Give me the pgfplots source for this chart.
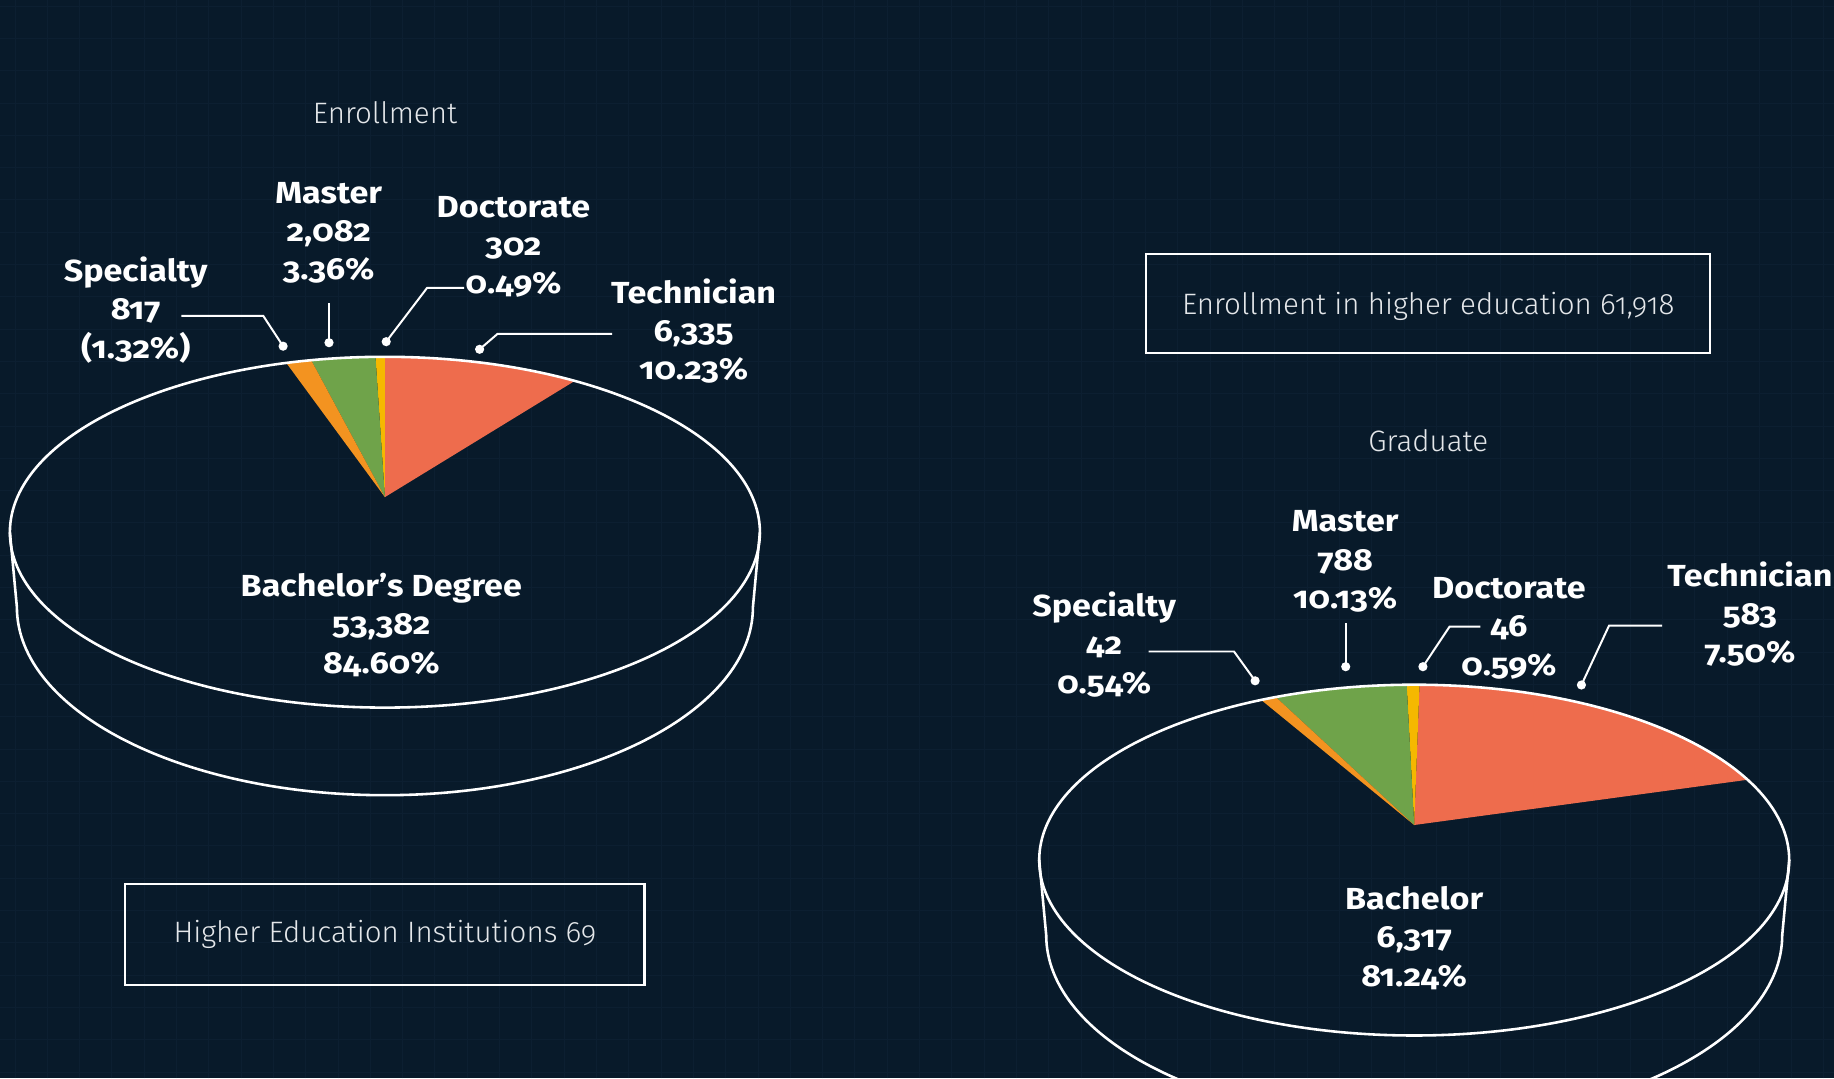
\documentclass[border=0pt]{standalone}
\usepackage{pgfplots}
\pgfplotsset{compat=1.18}
\usepackage{pgfplotstable}
\usepackage{fontspec}
\setmainfont{Fira Sans}[Numbers=OldStyle, FakeStretch=1.12]
\IfFontExistsTF{Fira Sans Light}
  {\newfontfamily\lightfont{Fira Sans Light}[Numbers=OldStyle]}
  {\newfontfamily\lightfont{Fira Sans}[Numbers=OldStyle]}

\definecolor{bg}{HTML}{081A2A}
\definecolor{gridc}{HTML}{0C1F31}
\definecolor{tech}{HTML}{EE6C4D}
\definecolor{doct}{HTML}{F5B800}
\definecolor{mast}{HTML}{6FA34A}
\definecolor{spec}{HTML}{F39320}
\definecolor{txt}{HTML}{E4E7EA}

% slice shares in percent, counter-clockwise from the start angle
\pgfplotstableread{
label      share  colour
Technician 10.23  tech
Doctorate  0.49   doct
Master     3.36   mast
Specialty  1.32   spec
Bachelor   84.60  none
}\enrollment

% shares as drawn in the graduate pie
\pgfplotstableread{
label      share  colour
Technician 20.14  tech
Doctorate  0.67   doct
Master     6.93   mast
Specialty  0.81   spec
Bachelor   71.45  none
}\graduate

\def\RX{375}   % top face radii, in pixels
\def\RY{175.4}
\def\RXB{368}  % bottom face
\def\RYB{188}
\def\DEPTH{75}
\def\U{0.15}   % mm per pixel

% perspective pie: #1 table, #2 cx, #3 cy (top face centre), #4 start angle
\newcommand\pieslices[4]{%
  \pgfmathsetmacro\pstart{#4}\xdef\phicur{\pstart}%
  \pgfplotstablegetrowsof{#1}\pgfmathtruncatemacro\nlast{\pgfplotsretval-1}%
  \pgfmathsetmacro\rxmm{\RX*\U}\pgfmathsetmacro\rymm{\RY*\U}%
  \foreach \i in {0,...,\nlast}{%
    \pgfplotstablegetelem{\i}{share}\of{#1}\let\sh\pgfplotsretval
    \pgfplotstablegetelem{\i}{colour}\of{#1}\let\col\pgfplotsretval
    \pgfmathsetmacro\pa{\phicur}%
    \pgfmathsetmacro\pb{\phicur+3.6*\sh}%
    \xdef\phicur{\pb}%
    \pgfmathsetmacro\ax{#2}%
    \pgfmathsetmacro\ay{#3+0.2*\RY}%
    \pgfmathsetmacro\xa{\ax+\RX*sqrt(24)*cos(\pa)/(5+sin(\pa))}%
    \pgfmathsetmacro\ya{\ay+4.8*\RY*sin(\pa)/(5+sin(\pa))}%
    \pgfmathsetmacro\xb{\ax+\RX*sqrt(24)*cos(\pb)/(5+sin(\pb))}%
    \pgfmathsetmacro\yb{\ay+4.8*\RY*sin(\pb)/(5+sin(\pb))}%
    \pgfmathsetmacro\ta{atan2((\ya-#3)/\RY,(\xa-#2)/\RX)}%
    \pgfmathsetmacro\tb{atan2((\yb-#3)/\RY,(\xb-#2)/\RX)}%
    \pgfmathsetmacro\tb{\tb<\ta ? \tb+360 : \tb}%
    \path[fill=\col] (axis cs:\ax,\ay) -- (axis cs:\xa,\ya)
      arc[start angle=\ta, end angle=\tb, x radius=\rxmm mm, y radius=\rymm mm] -- cycle;
  }%
}

% cylinder outline: #1 cx, #2 cy
\newcommand\pieoutline[2]{%
  \pgfmathsetmacro\rxmm{\RX*\U}\pgfmathsetmacro\rymm{\RY*\U}%
  \pgfmathsetmacro\rxbmm{\RXB*\U}\pgfmathsetmacro\rybmm{\RYB*\U}%
  \pgfmathsetmacro\xl{#1-\RX}\pgfmathsetmacro\xr{#1+\RX}%
  \pgfmathsetmacro\xbl{#1-\RXB}\pgfmathsetmacro\yb{#2-\DEPTH}%
  \draw[white, line width=1.1pt] (axis cs:#1,#2) ellipse[x radius=\rxmm mm, y radius=\rymm mm];
  \draw[white, line width=1.1pt] (axis cs:\xl,#2) -- (axis cs:\xbl,\yb)
    arc[start angle=180, end angle=360, x radius=\rxbmm mm, y radius=\rybmm mm]
    -- (axis cs:\xr,#2);
}

% faint background grid
\newcommand\bggrid{%
  \foreach \x in {15,47.3,...,1834} \draw[gridc, line width=0.35pt] (axis cs:\x,0) -- (axis cs:\x,1078);
  \foreach \y in {6,38.3,...,1078} \draw[gridc, line width=0.35pt] (axis cs:0,\y) -- (axis cs:1834,\y);
}

\tikzset{
  lab/.style={align=center, text=white, font=\bfseries\fontsize{13}{16.4}\selectfont},
  ttl/.style={text=txt, font=\lightfont\fontsize{12.6}{15}\selectfont},
  lead/.style={white, line width=0.85pt, mark=*, mark size=1.5pt, mark options={fill=white}},
}

\begin{document}
\begin{tikzpicture}
\begin{axis}[
    x=0.15mm, y=0.15mm,
    xmin=0, xmax=1834, ymin=0, ymax=1078,
    axis background/.style={fill=bg},
    axis line style={draw=none},
    xtick=\empty, ytick=\empty,
]
\pgfplotsextra{\bggrid}
% slices and outlines
\pgfplotsextra{\pieslices{\enrollment}{384.9}{545.8}{53.17}}
\pgfplotsextra{\pieslices{\graduate}{1414.2}{217.9}{16.5}}
\pgfplotsextra{\pieoutline{384.9}{545.8}}
\pgfplotsextra{\pieoutline{1414.2}{217.9}}

% leader lines, enrollment
\addplot[lead, mark indices={3}] coordinates {(181.3,762.2) (263.2,762.2) (283.1,731.8)};
\addplot[lead, mark indices={2}] coordinates {(329,774.7) (329,735.3)};
\addplot[lead, mark indices={3}] coordinates {(464,790) (427,790) (386.2,736.3)};
\addplot[lead, mark indices={3}] coordinates {(612.2,744) (497.4,744) (479.6,728.7)};
% leader lines, graduate
\addplot[lead, mark indices={3}] coordinates {(1148.6,426.5) (1234,426.5) (1255.1,397.2)};
\addplot[lead, mark indices={2}] coordinates {(1345.7,454.7) (1345.7,411.3)};
\addplot[lead, mark indices={3}] coordinates {(1480.3,451.3) (1449.5,451.3) (1422.9,411.3)};
\addplot[lead, mark indices={3}] coordinates {(1662.2,452.3) (1609,452.3) (1581.4,393)};

% titles and boxes
\node[ttl] at (axis cs:385,965) {Enrollment};
\node[ttl] at (axis cs:1428.2,637) {Graduate};
\draw[white, line width=1pt] (axis cs:125.2,193.7) rectangle (axis cs:644.5,93.1);
\node[ttl] at (axis cs:385,143.4) {Higher Education Institutions 69};
\draw[white, line width=1pt] (axis cs:1146.3,824.2) rectangle (axis cs:1710.1,724.8);
\node[ttl] at (axis cs:1428.2,771.5) {Enrollment in higher education 61,918};

% labels, enrollment
\node[lab] at (axis cs:135.7,768) {Specialty\\817\\(1.32\%)};
\node[lab] at (axis cs:328.7,845.2) {Master\\2,082\\3.36\%};
\node[lab] at (axis cs:513.5,831.2) {Doctorate\\302\\0.49\%};
\node[lab] at (axis cs:693.6,747) {Technician\\6,335\\10.23\%};
\node[lab] at (axis cs:381.3,453.4) {Bachelor’s Degree\\53,382\\84.60\%};
% labels, graduate
\node[lab] at (axis cs:1104.2,433.5) {Specialty\\42\\0.54\%};
\node[lab] at (axis cs:1345.2,516.5) {Master\\788\\10.13\%};
\node[lab] at (axis cs:1508.9,449.9) {Doctorate\\46\\0.59\%};
\node[lab] at (axis cs:1749.9,463.9) {Technician\\583\\7.50\%};
\node[lab] at (axis cs:1414.2,139.9) {Bachelor\\6,317\\81.24\%};
\end{axis}
\pgfresetboundingbox
\path[use as bounding box] (current axis.south west) rectangle (current axis.north east);
\end{tikzpicture}
\end{document}
